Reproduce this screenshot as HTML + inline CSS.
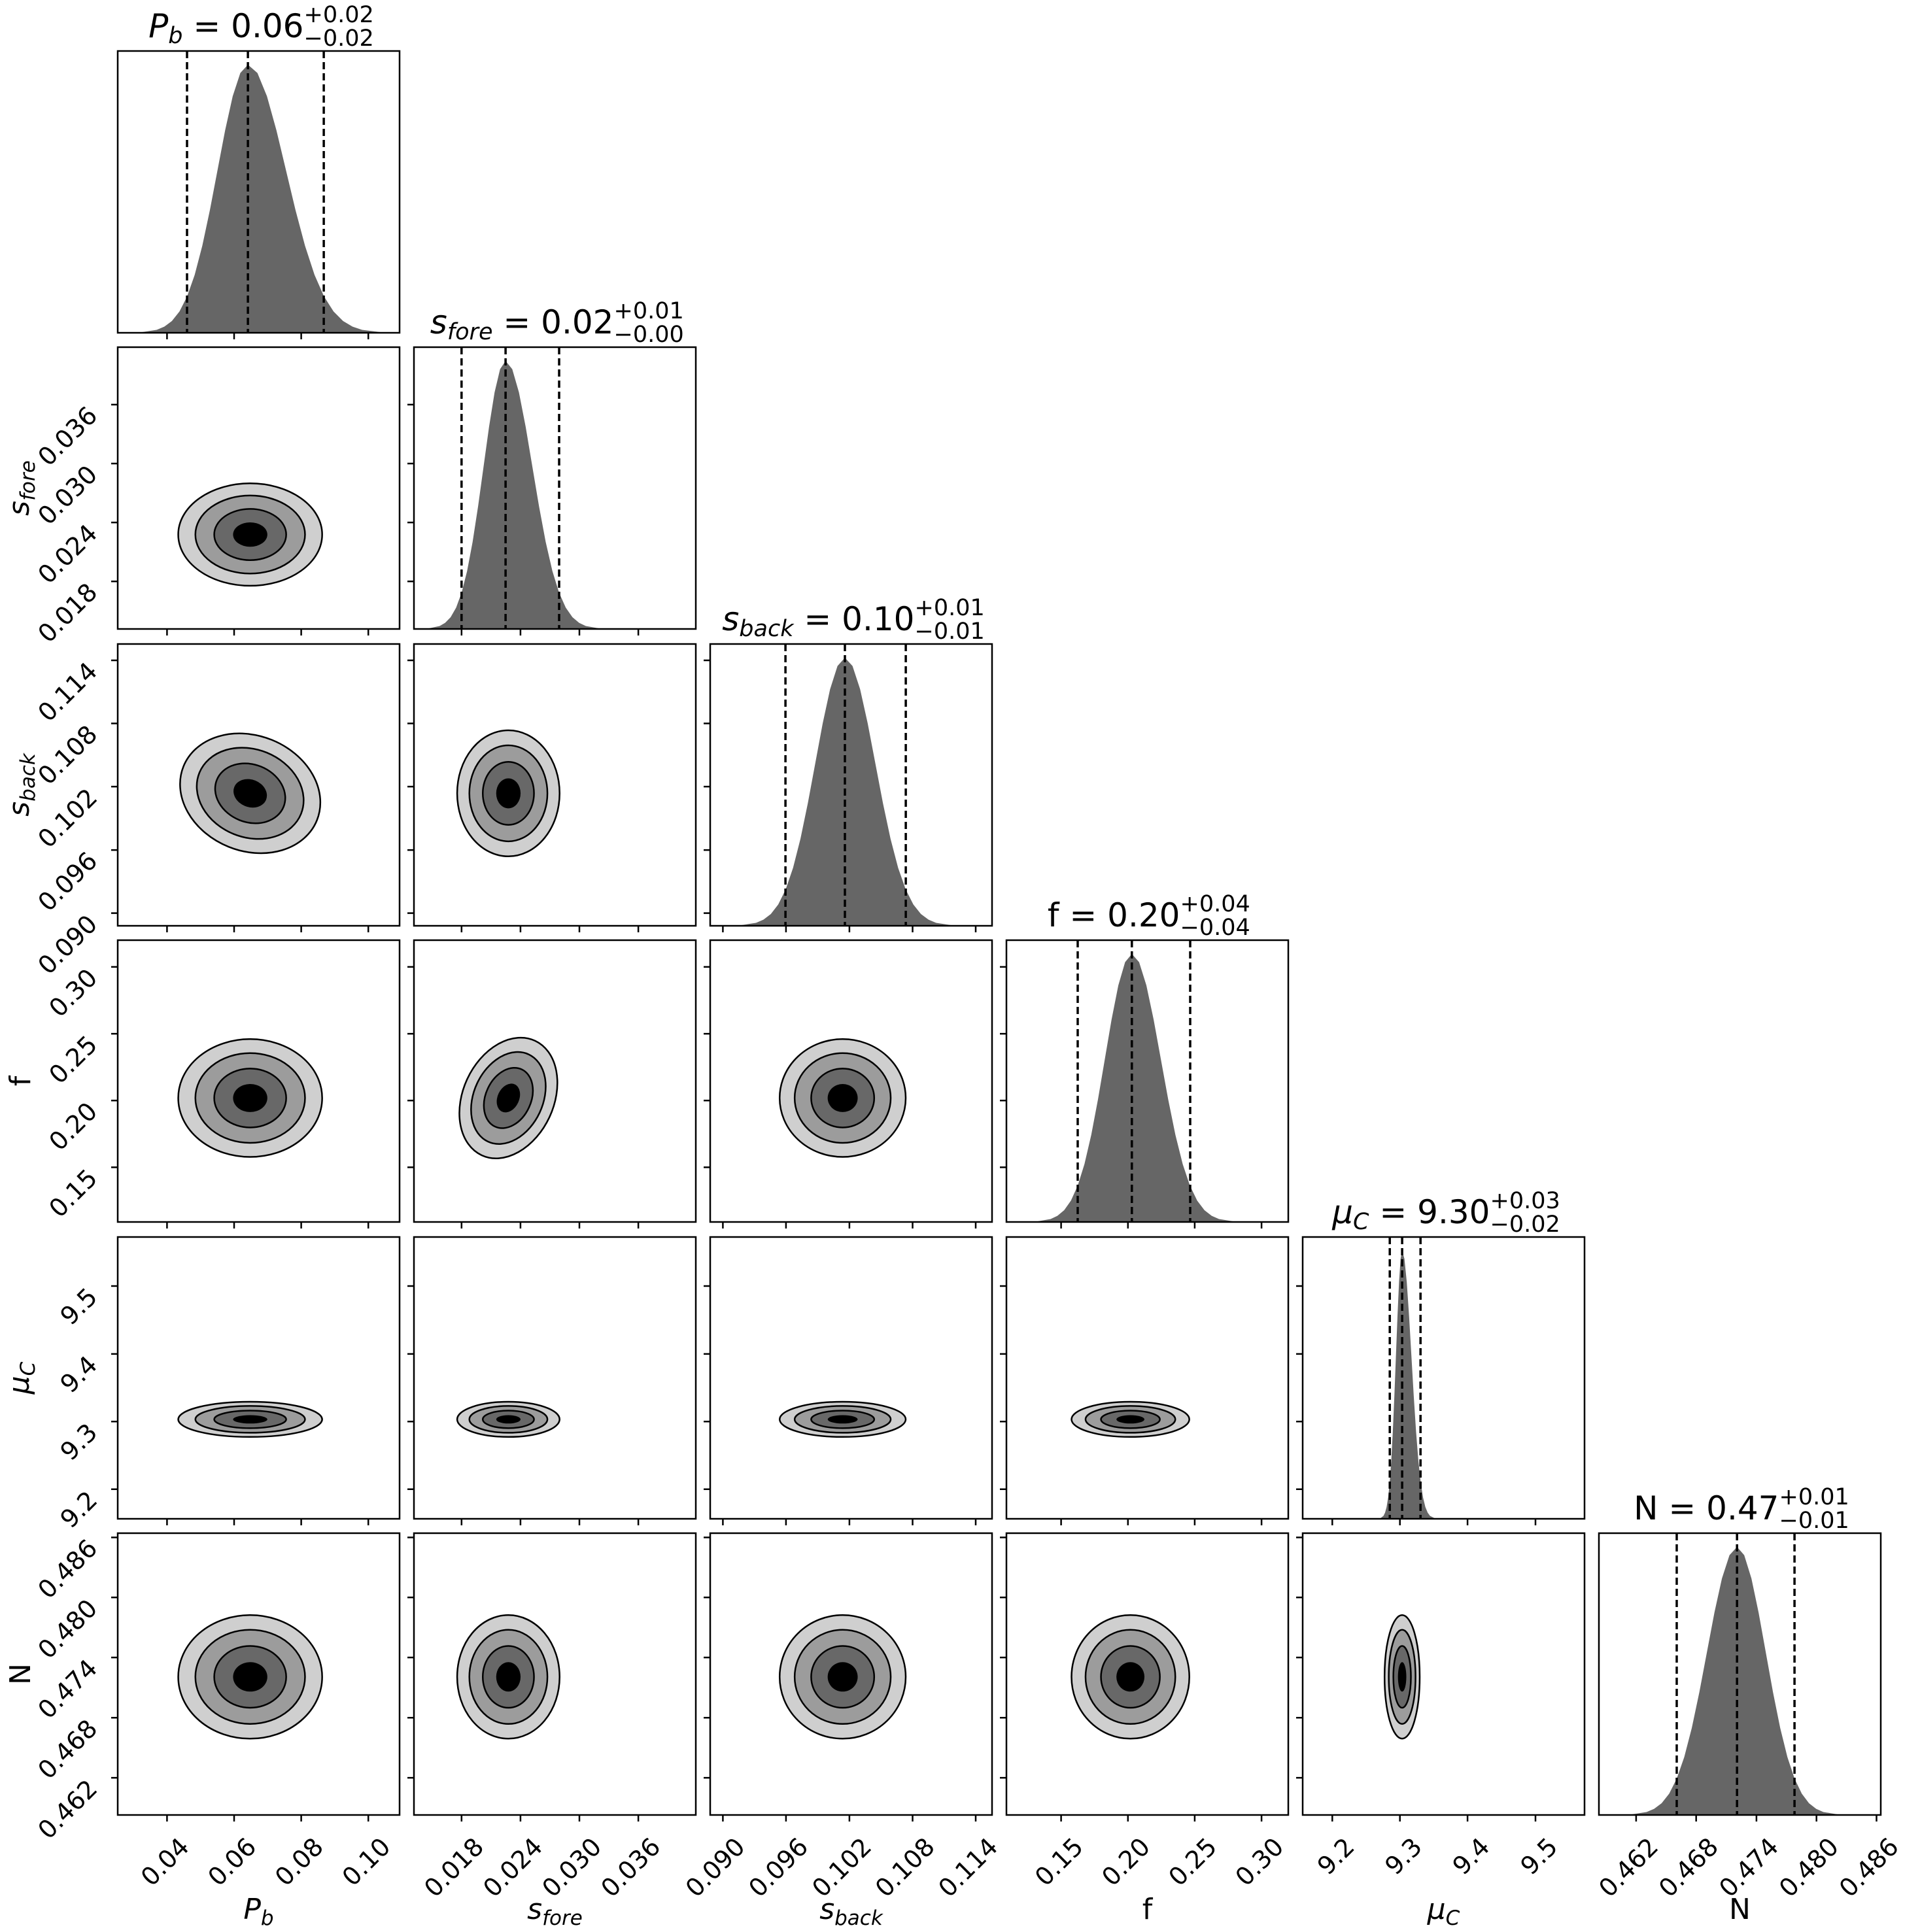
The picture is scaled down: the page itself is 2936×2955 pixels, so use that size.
<!DOCTYPE html>
<html><head><meta charset="utf-8"><style>
html,body{margin:0;padding:0;background:#fff;}
svg{display:block;}
text{font-family:"DejaVu Sans","Liberation Sans",sans-serif;fill:#000;}
.tk{font-size:38px;}
.al{font-size:44px;}
.ti{font-size:50px;}
.sc{font-size:35px;}
.fr{fill:none;stroke:#000;stroke-width:2.5;}
.tick{stroke:#000;stroke-width:2.5;}
.ds{stroke:#000;stroke-width:3.5;stroke-dasharray:11 6;}
.c1{fill:#cfcfcf;stroke:#000;stroke-width:2.5;}
.c2{fill:#9c9c9c;stroke:#000;stroke-width:2.5;}
.c3{fill:#686868;stroke:#000;stroke-width:2.5;}
.c4{fill:#000;stroke:none;}
</style></head><body>
<svg width="2936" height="2955" viewBox="0 0 2936 2955" xmlns="http://www.w3.org/2000/svg">
<defs>
<path id="hh" d="M-0.03,0 L-0.03,1 L0,1 L0.25,0.9692 L0.5,0.8825 L0.75,0.7548 L1,0.6065 L1.25,0.4578 L1.5,0.3247 L1.75,0.2163 L2,0.1353 L2.25,0.0796 L2.5,0.0439 L2.75,0.0228 L3,0.0111 L3.5,0.0022 L4,0.0003 L8,0 Z" fill="#666"/>
<g id="ct">
<circle r="2.1" class="c1" vector-effect="non-scaling-stroke"/>
<circle r="1.6" class="c2" vector-effect="non-scaling-stroke"/>
<circle r="1.05" class="c3" vector-effect="non-scaling-stroke"/>
<circle r="0.5" class="c4"/>
</g>
<clipPath id="k1"><rect x="180" y="78" width="431" height="431"/></clipPath>
<clipPath id="k2"><rect x="633" y="531" width="431" height="431"/></clipPath>
<clipPath id="k3"><rect x="1086" y="985" width="431" height="431"/></clipPath>
<clipPath id="k4"><rect x="1539" y="1438" width="431" height="431"/></clipPath>
<clipPath id="k5"><rect x="1992" y="1892" width="431" height="431"/></clipPath>
<clipPath id="k6"><rect x="2445" y="2345" width="431" height="431"/></clipPath>
</defs>

<g clip-path="url(#k1)">
<use href="#hh" transform="translate(379.1,509) scale(58.2,-410)"/>
<use href="#hh" transform="translate(379.1,509) scale(-46.5,-410)"/>
</g>
<g clip-path="url(#k2)">
<use href="#hh" transform="translate(773.1,962) scale(40.9,-410)"/>
<use href="#hh" transform="translate(773.1,962) scale(-33.6,-410)"/>
</g>
<g clip-path="url(#k3)">
<use href="#hh" transform="translate(1292,1416) scale(46.5,-410)"/>
<use href="#hh" transform="translate(1292,1416) scale(-45.3,-410)"/>
</g>
<g clip-path="url(#k4)">
<use href="#hh" transform="translate(1730.8,1869) scale(44.4,-410)"/>
<use href="#hh" transform="translate(1730.8,1869) scale(-41.4,-410)"/>
</g>
<g clip-path="url(#k5)">
<use href="#hh" transform="translate(2144.1,2323) scale(14.2,-410)"/>
<use href="#hh" transform="translate(2144.1,2323) scale(-9.5,-410)"/>
</g>
<g clip-path="url(#k6)">
<use href="#hh" transform="translate(2656.2,2776) scale(44,-410)"/>
<use href="#hh" transform="translate(2656.2,2776) scale(-46.1,-410)"/>
</g>

<g class="ds">
<line x1="286" y1="78" x2="286" y2="509"/><line x1="379.1" y1="78" x2="379.1" y2="509"/><line x1="495.1" y1="78" x2="495.1" y2="509"/>
<line x1="705.8" y1="531" x2="705.8" y2="962"/><line x1="773.1" y1="531" x2="773.1" y2="962"/><line x1="855" y1="531" x2="855" y2="962"/>
<line x1="1201.1" y1="985" x2="1201.1" y2="1416"/><line x1="1292" y1="985" x2="1292" y2="1416"/><line x1="1385.1" y1="985" x2="1385.1" y2="1416"/>
<line x1="1648" y1="1438" x2="1648" y2="1869"/><line x1="1730.8" y1="1438" x2="1730.8" y2="1869"/><line x1="1820" y1="1438" x2="1820" y2="1869"/>
<line x1="2125.2" y1="1892" x2="2125.2" y2="2323"/><line x1="2144.1" y1="1892" x2="2144.1" y2="2323"/><line x1="2172.2" y1="1892" x2="2172.2" y2="2323"/>
<line x1="2564" y1="2345" x2="2564" y2="2776"/><line x1="2656.2" y1="2345" x2="2656.2" y2="2776"/><line x1="2744.1" y1="2345" x2="2744.1" y2="2776"/>
</g>

<use href="#ct" transform="translate(382.6,817.6) scale(52.4,37.3)"/>
<use href="#ct" transform="translate(382.6,1213.4) rotate(22) scale(52.4,42)"/>
<use href="#ct" transform="translate(777.4,1213.4) scale(37.3,45.9)"/>
<use href="#ct" transform="translate(382.6,1679.4) scale(52.4,42.9)"/>
<use href="#ct" transform="translate(777.4,1679.4) rotate(25) scale(33,46)"/>
<use href="#ct" transform="translate(1288.6,1679.4) scale(45.9,42.9)"/>
<use href="#ct" transform="translate(382.6,2170.9) scale(52.4,12.8)"/>
<use href="#ct" transform="translate(777.4,2170.9) scale(37.3,12.8)"/>
<use href="#ct" transform="translate(1288.6,2170.9) scale(45.9,12.8)"/>
<use href="#ct" transform="translate(1728.6,2170.9) scale(42.9,12.8)"/>
<use href="#ct" transform="translate(382.6,2564.8) scale(52.4,45)"/>
<use href="#ct" transform="translate(777.4,2564.8) scale(37.3,45)"/>
<use href="#ct" transform="translate(1288.6,2564.8) scale(45.9,45)"/>
<use href="#ct" transform="translate(1728.6,2564.8) scale(42.9,45)"/>
<use href="#ct" transform="translate(2144.1,2564.8) scale(12.8,45)"/>

<g class="fr">
<rect x="180" y="78" width="431" height="431"/>
<rect x="180" y="531" width="431" height="431"/><rect x="633" y="531" width="431" height="431"/>
<rect x="180" y="985" width="431" height="431"/><rect x="633" y="985" width="431" height="431"/><rect x="1086" y="985" width="431" height="431"/>
<rect x="180" y="1438" width="431" height="431"/><rect x="633" y="1438" width="431" height="431"/><rect x="1086" y="1438" width="431" height="431"/><rect x="1539" y="1438" width="431" height="431"/>
<rect x="180" y="1892" width="431" height="431"/><rect x="633" y="1892" width="431" height="431"/><rect x="1086" y="1892" width="431" height="431"/><rect x="1539" y="1892" width="431" height="431"/><rect x="1992" y="1892" width="431" height="431"/>
<rect x="180" y="2345" width="431" height="431"/><rect x="633" y="2345" width="431" height="431"/><rect x="1086" y="2345" width="431" height="431"/><rect x="1539" y="2345" width="431" height="431"/><rect x="1992" y="2345" width="431" height="431"/><rect x="2445" y="2345" width="431" height="431"/>
</g>

<g class="tick">
<path d="M255.4,509v10M358,509v10M460.6,509v10M563.2,509v10
M255.4,962v10M358,962v10M460.6,962v10M563.2,962v10
M255.4,1416v10M358,1416v10M460.6,1416v10M563.2,1416v10
M255.4,1869v10M358,1869v10M460.6,1869v10M563.2,1869v10
M255.4,2323v10M358,2323v10M460.6,2323v10M563.2,2323v10
M255.4,2776v10M358,2776v10M460.6,2776v10M563.2,2776v10
M705.8,962v10M795.9,962v10M886,962v10M976.1,962v10
M705.8,1416v10M795.9,1416v10M886,1416v10M976.1,1416v10
M705.8,1869v10M795.9,1869v10M886,1869v10M976.1,1869v10
M705.8,2323v10M795.9,2323v10M886,2323v10M976.1,2323v10
M705.8,2776v10M795.9,2776v10M886,2776v10M976.1,2776v10
M1105.4,1416v10M1201.9,1416v10M1298.9,1416v10M1395.5,1416v10M1492,1416v10
M1105.4,1869v10M1201.9,1869v10M1298.9,1869v10M1395.5,1869v10M1492,1869v10
M1105.4,2323v10M1201.9,2323v10M1298.9,2323v10M1395.5,2323v10M1492,2323v10
M1105.4,2776v10M1201.9,2776v10M1298.9,2776v10M1395.5,2776v10M1492,2776v10
M1622.6,1869v10M1724.8,1869v10M1826.9,1869v10M1929.1,1869v10
M1622.6,2323v10M1724.8,2323v10M1826.9,2323v10M1929.1,2323v10
M1622.6,2776v10M1724.8,2776v10M1826.9,2776v10M1929.1,2776v10
M2037.3,2323v10M2140.7,2323v10M2244.1,2323v10M2348,2323v10
M2037.3,2776v10M2140.7,2776v10M2244.1,2776v10M2348,2776v10
M2501.9,2776v10M2593.7,2776v10M2685.9,2776v10M2777.7,2776v10M2869.5,2776v10"/>
<path d="M180,889.2h-10M180,799.1h-10M180,709h-10M180,618.9h-10
M633,889.2h-10M633,799.1h-10M633,709h-10M633,618.9h-10
M180,1396.6h-10M180,1300.1h-10M180,1203.1h-10M180,1106.5h-10M180,1010h-10
M633,1396.6h-10M633,1300.1h-10M633,1203.1h-10M633,1106.5h-10M633,1010h-10
M1086,1396.6h-10M1086,1300.1h-10M1086,1203.1h-10M1086,1106.5h-10M1086,1010h-10
M180,1785.4h-10M180,1683.2h-10M180,1581.1h-10M180,1478.9h-10
M633,1785.4h-10M633,1683.2h-10M633,1581.1h-10M633,1478.9h-10
M1086,1785.4h-10M1086,1683.2h-10M1086,1581.1h-10M1086,1478.9h-10
M1539,1785.4h-10M1539,1683.2h-10M1539,1581.1h-10M1539,1478.9h-10
M180,2277.7h-10M180,2174.3h-10M180,2070.9h-10M180,1967h-10
M633,2277.7h-10M633,2174.3h-10M633,2070.9h-10M633,1967h-10
M1086,2277.7h-10M1086,2174.3h-10M1086,2070.9h-10M1086,1967h-10
M1539,2277.7h-10M1539,2174.3h-10M1539,2070.9h-10M1539,1967h-10
M1992,2277.7h-10M1992,2174.3h-10M1992,2070.9h-10M1992,1967h-10
M180,2719.1h-10M180,2627.3h-10M180,2535.1h-10M180,2443.3h-10M180,2351.5h-10
M633,2719.1h-10M633,2627.3h-10M633,2535.1h-10M633,2443.3h-10M633,2351.5h-10
M1086,2719.1h-10M1086,2627.3h-10M1086,2535.1h-10M1086,2443.3h-10M1086,2351.5h-10
M1539,2719.1h-10M1539,2627.3h-10M1539,2535.1h-10M1539,2443.3h-10M1539,2351.5h-10
M1992,2719.1h-10M1992,2627.3h-10M1992,2535.1h-10M1992,2443.3h-10M1992,2351.5h-10"/>
</g>

<g class="tk" text-anchor="end">
<text transform="translate(291.4,2827) rotate(-45)">0.04</text>
<text transform="translate(394,2827) rotate(-45)">0.06</text>
<text transform="translate(496.6,2827) rotate(-45)">0.08</text>
<text transform="translate(599.2,2827) rotate(-45)">0.10</text>
<text transform="translate(741.8,2827) rotate(-45)">0.018</text>
<text transform="translate(831.9,2827) rotate(-45)">0.024</text>
<text transform="translate(922,2827) rotate(-45)">0.030</text>
<text transform="translate(1012.1,2827) rotate(-45)">0.036</text>
<text transform="translate(1141.4,2827) rotate(-45)">0.090</text>
<text transform="translate(1237.9,2827) rotate(-45)">0.096</text>
<text transform="translate(1334.9,2827) rotate(-45)">0.102</text>
<text transform="translate(1431.5,2827) rotate(-45)">0.108</text>
<text transform="translate(1528,2827) rotate(-45)">0.114</text>
<text transform="translate(1658.6,2827) rotate(-45)">0.15</text>
<text transform="translate(1760.8,2827) rotate(-45)">0.20</text>
<text transform="translate(1862.9,2827) rotate(-45)">0.25</text>
<text transform="translate(1965.1,2827) rotate(-45)">0.30</text>
<text transform="translate(2073.3,2827) rotate(-45)">9.2</text>
<text transform="translate(2176.7,2827) rotate(-45)">9.3</text>
<text transform="translate(2280.1,2827) rotate(-45)">9.4</text>
<text transform="translate(2384,2827) rotate(-45)">9.5</text>
<text transform="translate(2537.9,2827) rotate(-45)">0.462</text>
<text transform="translate(2629.7,2827) rotate(-45)">0.468</text>
<text transform="translate(2721.9,2827) rotate(-45)">0.474</text>
<text transform="translate(2813.7,2827) rotate(-45)">0.480</text>
<text transform="translate(2905.5,2827) rotate(-45)">0.486</text>
</g>

<g class="tk" text-anchor="end">
<text transform="translate(151,908.2) rotate(-45)">0.018</text>
<text transform="translate(151,818.1) rotate(-45)">0.024</text>
<text transform="translate(151,728) rotate(-45)">0.030</text>
<text transform="translate(151,637.9) rotate(-45)">0.036</text>
<text transform="translate(151,1415.6) rotate(-45)">0.090</text>
<text transform="translate(151,1319.1) rotate(-45)">0.096</text>
<text transform="translate(151,1222.1) rotate(-45)">0.102</text>
<text transform="translate(151,1125.5) rotate(-45)">0.108</text>
<text transform="translate(151,1029) rotate(-45)">0.114</text>
<text transform="translate(151,1804.4) rotate(-45)">0.15</text>
<text transform="translate(151,1702.2) rotate(-45)">0.20</text>
<text transform="translate(151,1600.1) rotate(-45)">0.25</text>
<text transform="translate(151,1497.9) rotate(-45)">0.30</text>
<text transform="translate(151,2296.7) rotate(-45)">9.2</text>
<text transform="translate(151,2193.3) rotate(-45)">9.3</text>
<text transform="translate(151,2089.9) rotate(-45)">9.4</text>
<text transform="translate(151,1986) rotate(-45)">9.5</text>
<text transform="translate(151,2738.1) rotate(-45)">0.462</text>
<text transform="translate(151,2646.3) rotate(-45)">0.468</text>
<text transform="translate(151,2554.1) rotate(-45)">0.474</text>
<text transform="translate(151,2462.3) rotate(-45)">0.480</text>
<text transform="translate(151,2370.5) rotate(-45)">0.486</text>
</g>

<g class="al" text-anchor="middle">
<text x="395.5" y="2935"><tspan font-style="italic">P</tspan><tspan font-style="italic" font-size="31" dy="9">b</tspan></text>
<text x="848.5" y="2935"><tspan font-style="italic">s</tspan><tspan font-style="italic" font-size="31" dy="9">fore</tspan></text>
<text x="1301.5" y="2935"><tspan font-style="italic">s</tspan><tspan font-style="italic" font-size="31" dy="9">back</tspan></text>
<text x="1754.5" y="2935">f</text>
<text x="2207.5" y="2935"><tspan font-style="italic">μ</tspan><tspan font-style="italic" font-size="31" dy="9">C</tspan></text>
<text x="2660.5" y="2935">N</text>
</g>
<g class="al" text-anchor="middle">
<text transform="translate(44,746.5) rotate(-90)"><tspan font-style="italic">s</tspan><tspan font-style="italic" font-size="31" dy="9">fore</tspan></text>
<text transform="translate(44,1200.5) rotate(-90)"><tspan font-style="italic">s</tspan><tspan font-style="italic" font-size="31" dy="9">back</tspan></text>
<text transform="translate(46,1653.5) rotate(-90)">f</text>
<text transform="translate(44,2107.5) rotate(-90)"><tspan font-style="italic">μ</tspan><tspan font-style="italic" font-size="31" dy="9">C</tspan></text>
<text transform="translate(46,2560.5) rotate(-90)">N</text>
</g>

<g class="ti">
<text x="464.5" y="57" text-anchor="end"><tspan font-style="italic">P</tspan><tspan font-style="italic" font-size="35" dy="9">b</tspan><tspan dy="-9"> = 0.06</tspan></text>
<text class="sc" x="464.5" y="34">+0.02</text><text class="sc" x="464.5" y="70">−0.02</text>

<text x="938.5" y="510" text-anchor="end"><tspan font-style="italic">s</tspan><tspan font-style="italic" font-size="35" dy="9">fore</tspan><tspan dy="-9"> = 0.02</tspan></text>
<text class="sc" x="938.5" y="487">+0.01</text><text class="sc" x="938.5" y="523">−0.00</text>

<text x="1398.5" y="964" text-anchor="end"><tspan font-style="italic">s</tspan><tspan font-style="italic" font-size="35" dy="9">back</tspan><tspan dy="-9"> = 0.10</tspan></text>
<text class="sc" x="1398.5" y="941">+0.01</text><text class="sc" x="1398.5" y="977">−0.01</text>

<text x="1804.5" y="1417" text-anchor="end">f = 0.20</text>
<text class="sc" x="1804.5" y="1394">+0.04</text><text class="sc" x="1804.5" y="1430">−0.04</text>

<text x="2278.5" y="1871" text-anchor="end"><tspan font-style="italic">μ</tspan><tspan font-style="italic" font-size="35" dy="9">C</tspan><tspan dy="-9"> = 9.30</tspan></text>
<text class="sc" x="2278.5" y="1848">+0.03</text><text class="sc" x="2278.5" y="1884">−0.02</text>

<text x="2720.5" y="2324" text-anchor="end">N = 0.47</text>
<text class="sc" x="2720.5" y="2301">+0.01</text><text class="sc" x="2720.5" y="2337">−0.01</text>
</g>
</svg>
</body></html>
